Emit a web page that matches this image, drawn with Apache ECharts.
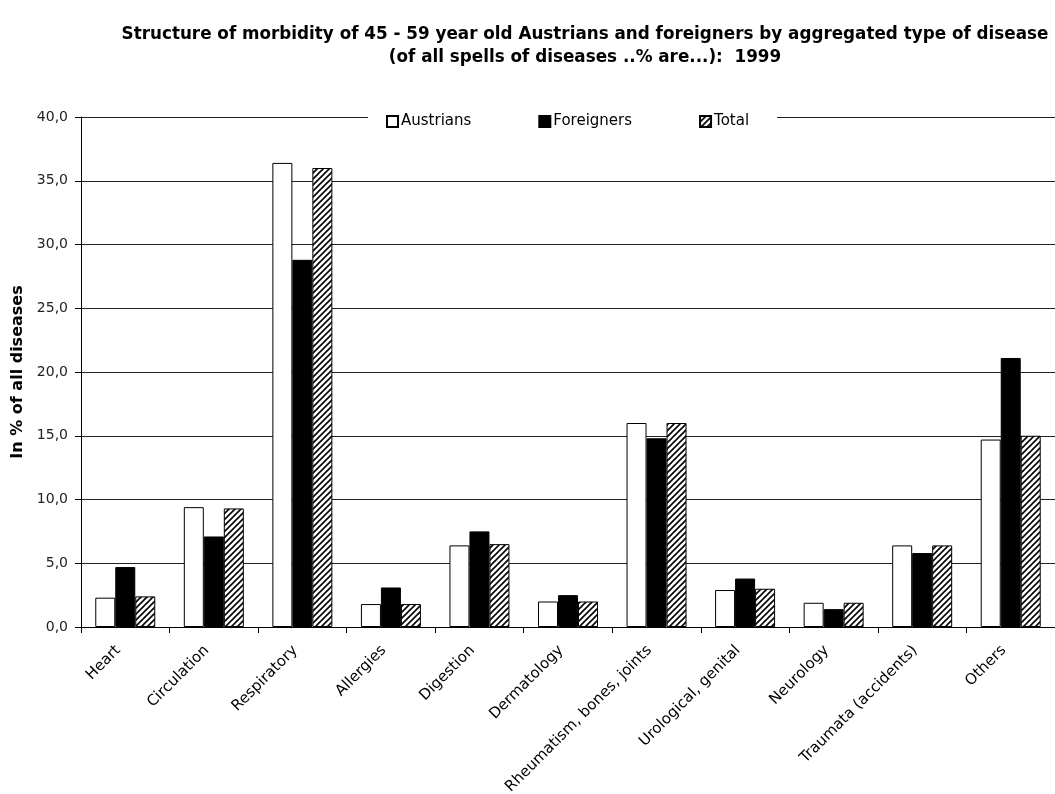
<!DOCTYPE html>
<html>
<head>
<meta charset="utf-8">
<script src="https://cdn.jsdelivr.net/npm/echarts@6/dist/echarts.min.js"></script>
<style>html,body{margin:0;padding:0;background:#fff}#c{width:1055px;height:794px}</style>
</head>
<body>
<div id="c"></div>
<script>
const categories = ["Heart","Circulation","Respiratory","Allergies","Digestion","Dermatology","Rheumatism, bones, joints","Urological, genital","Neurology","Traumata (accidents)","Others"];
const austrians  = [2.3, 9.4, 36.4, 1.8, 6.4, 2.0, 16.0, 2.9, 1.9, 6.4, 14.7];
const foreigners = [4.7, 7.1, 28.8, 3.1, 7.5, 2.5, 14.8, 3.8, 1.4, 5.8, 21.1];
const total      = [2.4, 9.3, 36.0, 1.8, 6.5, 2.0, 16.0, 3.0, 1.9, 6.4, 15.0];
const yTicks = {min: 0, max: 40, interval: 5};

const FONT = "'DejaVu Sans', Lato, sans-serif";

function hatch() {
  const s = 6;
  const cv = document.createElement('canvas');
  cv.width = s; cv.height = s;
  const ctx = cv.getContext('2d');
  ctx.fillStyle = '#fff';
  ctx.fillRect(0, 0, s, s);
  ctx.strokeStyle = '#000';
  ctx.lineWidth = 1.6;
  ctx.beginPath();
  ctx.moveTo(0, s); ctx.lineTo(s, 0);
  ctx.moveTo(-s/2, s/2); ctx.lineTo(s/2, -s/2);
  ctx.moveTo(s/2, s*1.5); ctx.lineTo(s*1.5, s/2);
  ctx.stroke();
  return cv;
}

const chart = echarts.init(document.getElementById('c'), null, {renderer: 'canvas'});
const barBase = {type: 'bar', barWidth: 20, barGap: '0%'};
chart.setOption({
  animation: false,
  backgroundColor: '#fff',
  title: {
    text: 'Structure of morbidity of 45 - 59 year old Austrians and foreigners by aggregated type of disease\n(of all spells of diseases ..% are...):  1999',
    left: 580, top: 18, textAlign: 'center',
    textStyle: {fontFamily: FONT, fontSize: 16.8, fontWeight: 'bold', color: '#000', lineHeight: 23}
  },
  legend: {
    left: 368, top: 110,
    backgroundColor: '#fff',
    padding: [4, 28, 4, 18],
    itemWidth: 11, itemHeight: 11, itemGap: 67,
    icon: 'rect',
    textStyle: {fontFamily: FONT, fontSize: 15, color: '#000', padding: [0, 0, 0, -2]},
    data: ['Austrians', 'Foreigners', 'Total']
  },
  grid: {left: 81, right: 0, top: 117, bottom: 167, containLabel: false, outerBoundsMode: 'none'},
  xAxis: {
    type: 'category', data: categories,
    axisLine: {lineStyle: {color: '#000', width: 1}},
    axisTick: {show: true, length: 6, lineStyle: {color: '#000'}},
    axisLabel: {rotate: 45, interval: 0, margin: 14, padding: [0, 10, 0, 0],
      fontFamily: FONT, fontSize: 15, color: '#000'}
  },
  yAxis: {
    type: 'value', min: yTicks.min, max: yTicks.max, interval: yTicks.interval,
    name: 'In % of all diseases', nameLocation: 'middle', nameGap: 46, nameRotate: 90,
    nameTextStyle: {fontFamily: FONT, fontSize: 16, fontWeight: 'bold', color: '#000'},
    axisLine: {show: true, lineStyle: {color: '#000'}},
    axisTick: {show: true, length: 6, lineStyle: {color: '#000'}},
    splitLine: {show: true, lineStyle: {color: '#222', width: 1}},
    axisLabel: {margin: 13, fontFamily: FONT, fontSize: 14, color: '#222',
      formatter: v => v.toFixed(1).replace('.', ',')}
  },
  series: [
    Object.assign({}, barBase, {name: 'Austrians', data: austrians,
      itemStyle: {color: '#fff', borderColor: '#000', borderWidth: 1}}),
    Object.assign({}, barBase, {name: 'Foreigners', data: foreigners,
      itemStyle: {color: '#000', borderColor: '#000', borderWidth: 1}}),
    Object.assign({}, barBase, {name: 'Total', data: total,
      itemStyle: {color: {image: hatch(), repeat: 'repeat'}, borderColor: '#000', borderWidth: 1}})
  ]
});
</script>
</body>
</html>
